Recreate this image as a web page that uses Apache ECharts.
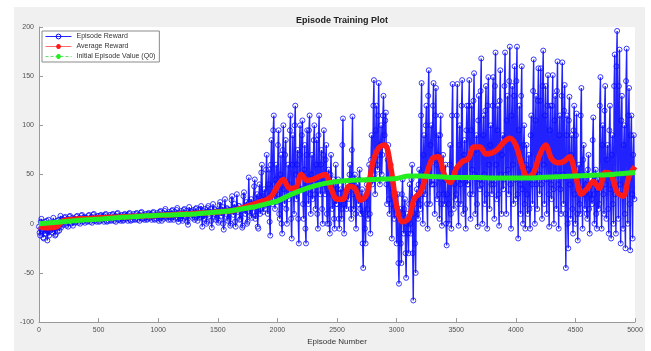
<!DOCTYPE html>
<html>
<head>
<meta charset="utf-8">
<title>Episode Training Plot</title>
<script src="https://cdn.jsdelivr.net/npm/echarts@6/dist/echarts.min.js"></script>
<style>
  html, body { margin: 0; padding: 0; background: #ffffff; }
  #chart { width: 651px; height: 351px; }
</style>
</head>
<body>
<div id="chart"></div>
<script>
// Episode reward, sampled every 5 episodes (0 ... 4995), one row per 100 episodes
const rewardStep = 5;
const episodeReward = [
  -3,-9,-12,2,5,-6,-8,-14,-15,-2,2,-10,-6,3,-17,-8,4,-12,-4,-7,
  -2,-6,-9,1,6,-3,-5,-12,-11,0,3,-8,-1,4,-7,-3,8,-4,2,5,
  4,-1,1,6,7,0,-2,3,5,-3,3,7,8,1,0,4,6,-2,2,5,
  5,1,2,7,8,3,1,5,6,0,4,8,9,2,3,6,7,1,4,6,
  5,2,3,8,9,4,2,6,7,1,5,9,10,3,3,7,6,2,5,8,
  6,2,3,8,9,4,4,7,8,2,5,9,10,3,2,6,7,3,6,9,
  6,3,4,9,10,5,3,7,8,2,6,10,11,4,4,8,7,3,5,9,
  7,3,4,9,10,5,5,8,9,3,6,10,11,4,3,7,8,4,7,10,
  7,4,5,10,11,6,4,8,9,3,7,11,12,5,5,9,8,4,6,10,
  8,4,5,10,11,6,6,9,10,4,7,11,12,5,4,8,9,5,8,11,
  9,3,5,12,13,6,3,9,11,5,8,13,15,7,6,10,10,4,7,12,
  10,4,6,13,14,7,4,10,12,6,9,14,16,5,2,9,11,5,8,13,
  10,3,5,14,15,8,7,11,13,2,-1,9,17,11,8,13,12,6,9,14,
  11,4,6,15,16,8,3,10,14,6,9,15,18,7,-3,8,13,5,10,15,
  12,0,2,16,18,10,8,12,15,3,-4,11,20,12,10,15,14,4,6,13,
  13,1,3,19,22,11,8,14,17,0,-6,12,25,14,10,16,15,3,5,14,
  14,-2,0,24,28,13,9,16,20,2,-3,14,30,16,12,18,18,4,5,15,
  15,-4,-2,28,32,14,10,18,22,0,2,20,47,22,8,16,25,6,12,20,
  18,38,45,5,8,25,30,-3,-5,28,40,10,15,52,60,20,12,28,35,15,
  25,55,70,20,10,40,55,2,-12,60,85,30,20,95,110,40,15,45,60,22,
  30,80,95,10,5,50,70,0,-10,75,100,35,20,70,85,15,0,40,60,25,
  40,95,110,5,-15,60,90,30,10,100,120,50,25,60,75,5,-20,70,100,35,
  35,90,105,20,5,55,80,-5,-20,70,95,40,20,95,110,30,10,50,70,25,
  45,85,100,30,15,60,85,10,-5,90,110,45,30,60,75,15,0,70,95,40,
  30,65,80,10,0,35,55,0,-10,50,70,30,15,35,45,5,-5,40,60,20,
  20,35,45,5,-5,25,35,15,5,80,107,20,-10,20,30,25,15,30,40,25,
  35,50,60,15,5,75,109,30,15,40,50,10,-5,30,40,30,20,45,55,15,
  10,25,35,-20,-45,10,25,-5,-20,30,40,15,5,45,60,10,-10,65,90,40,
  60,120,146,50,30,95,120,60,55,110,143,70,40,80,100,50,70,110,130,80,
  90,105,113,40,20,65,80,25,10,45,60,20,-15,35,45,15,5,25,30,10,
  -20,15,30,-40,-61,5,15,-20,-40,30,45,10,-10,15,25,-30,-55,0,10,-10,
  -30,20,40,0,-10,45,60,-30,-78,10,20,-20,-50,25,35,10,5,40,55,20,
  15,110,143,30,0,70,90,50,30,100,120,20,-5,130,156,60,20,80,100,40,
  40,120,143,40,10,110,138,60,25,70,90,30,5,90,110,20,-2,55,70,30,
  20,45,60,0,-22,30,45,20,0,60,80,10,-5,110,142,50,15,40,55,25,
  30,110,142,20,-2,80,100,40,20,120,146,45,10,70,85,15,-5,95,120,40,
  40,120,146,30,5,95,120,55,30,125,153,50,10,75,90,20,-3,105,130,45,
  35,135,168,40,0,90,110,50,20,115,140,30,-5,120,149,60,15,80,100,40,
  30,120,149,40,5,140,174,60,25,95,120,30,-2,125,156,50,10,70,90,35,
  45,140,174,50,10,105,130,55,30,145,180,40,-5,110,140,60,20,130,160,45,
  25,145,180,30,-15,95,120,40,10,130,160,35,0,80,100,20,-5,60,80,30,
  10,55,70,15,-5,90,110,40,20,135,167,50,0,105,130,40,15,125,158,50,
  30,125,158,40,5,140,176,60,20,110,140,45,10,120,151,30,-3,95,120,40,
  25,120,151,35,0,105,130,50,15,135,165,40,-5,90,110,35,10,130,164,50,
  20,115,141,10,-45,90,110,0,-25,105,129,40,5,70,90,15,-10,95,120,30,
  0,90,112,10,-17,50,60,20,10,110,138,35,-5,65,80,30,15,40,50,10,
  5,55,70,15,-10,30,40,25,20,85,108,30,0,45,55,10,-5,35,45,15,
  20,120,149,40,-5,80,100,30,10,115,140,40,5,65,80,15,-10,95,120,35,
  -15,70,90,20,0,140,172,30,-10,160,196,50,5,140,177,40,-20,105,130,30,
  -5,80,100,10,-25,145,178,40,0,110,138,20,-27,90,110,30,-15,70,90,25
];

// Average reward, every 50 episodes (0 ... 5000)
const averageStep = 50;
const averageReward = [
  -3,-4,-4,-3,3,4,4.5,5,5,5.5,
  6,6,6.5,6.5,7,7,7.5,7.5,8,8,
  8.5,9,9,9.5,10,10,10.5,11,11,11.5,
  12,12.5,13,14,16,18,20,22,24,28,
  38,45,36,36,50,44,45,48,50,36,
  25,25,38,36,24,30,62,77,80,58,
  18,2,5,26,32,50,66,68,50,42,
  56,63,66,78,78,71,72,76,83,87,
  80,60,47,52,70,80,66,62,63,68,
  50,30,36,43,36,52,50,32,28,48,
  58
];

// Initial episode value (Q0), every 100 episodes (0 ... 5000)
const q0Step = 100;
const initialValue = [
  0,1,2,3,4,4.5,5.5,6.5,7,8,
  8.5,9,9.5,10,11,12,13,15,17,20,
  23,29,34,38,41,43,44,44.5,45,45.5,
  46,48.5,48.5,48,47.5,47,47,47,46.5,46.5,
  46.5,46.5,47,47.5,48,48.5,49,49.5,50,51,
  52
];

// Axis ticks
const xTicks = { min: 0, max: 5000, interval: 500 };
const yTicks = { min: -100, max: 200, interval: 50 };

const pairs = (values, step) => values.map((v, i) => [i * step, v]);

const FONT = "'Liberation Sans', Arial, Helvetica, sans-serif";
const AXIS_GRAY = '#9a9a9a';
const LABEL_GRAY = '#505050';
const BLUE = '#0a0aff';
const RED = '#ff1a1a';
const GREEN = '#22ee22';
// stroked asterisk marker
const ASTERISK = 'path://M5,0L5,10M0,5L10,5M1.5,1.5L8.5,8.5M1.5,8.5L8.5,1.5';

const chart = echarts.init(document.getElementById('chart'), null, { renderer: 'canvas' });

chart.setOption({
  animation: false,
  backgroundColor: '#ffffff',
  textStyle: { fontFamily: FONT },
  graphic: [
    {
      type: 'rect',
      z: -10,
      silent: true,
      shape: { x: 14, y: 7, width: 631, height: 344 },
      style: { fill: '#f0f0f0' }
    }
  ],
  title: {
    text: 'Episode Training Plot',
    left: 337,
    textAlign: 'center',
    top: 11,
    textStyle: { fontSize: 9, fontWeight: 'bold', color: '#222', fontFamily: FONT }
  },
  grid: {
    left: 39, right: 16, top: 27, bottom: 27,
    show: true, backgroundColor: '#ffffff', borderWidth: 0
  },
  legend: {
    orient: 'vertical',
    left: 42, top: 31,
    itemWidth: 26, itemHeight: 6, itemGap: 3,
    padding: [2, 4, 2, 3],
    backgroundColor: '#ffffff',
    borderColor: '#8a8a8a', borderWidth: 1, borderRadius: 0,
    textStyle: { fontSize: 7, color: '#333', fontFamily: FONT },
    data: [
      { name: 'Episode Reward',
        itemStyle: { color: 'rgba(0,0,0,0)', borderColor: BLUE, borderWidth: 1 },
        lineStyle: { color: BLUE, width: 1 } },
      { name: 'Average Reward',
        itemStyle: { color: 'rgba(0,0,0,0)', borderColor: RED, borderWidth: 1.5 },
        lineStyle: { color: '#ff6a6a', width: 1 } },
      { name: 'Initial Episode Value (Q0)',
        itemStyle: { color: 'rgba(0,0,0,0)', borderColor: GREEN, borderWidth: 1.5 },
        lineStyle: { color: '#66e066', width: 1, type: [3, 2] } }
    ]
  },
  xAxis: {
    type: 'value',
    min: xTicks.min, max: xTicks.max, interval: xTicks.interval,
    name: 'Episode Number',
    nameLocation: 'middle',
    nameGap: 15,
    nameTextStyle: { fontSize: 8, color: '#333', fontFamily: FONT },
    axisLine: { show: true, onZero: false, lineStyle: { color: AXIS_GRAY, width: 1 } },
    axisTick: { show: true, inside: true, length: 4, lineStyle: { color: AXIS_GRAY } },
    axisLabel: { fontSize: 7, color: LABEL_GRAY, margin: 4, fontFamily: FONT,
                 formatter: v => String(v) },
    splitLine: { show: false }
  },
  yAxis: {
    type: 'value',
    min: yTicks.min, max: yTicks.max, interval: yTicks.interval,
    axisLine: { show: true, onZero: false, lineStyle: { color: AXIS_GRAY, width: 1 } },
    axisTick: { show: true, inside: true, length: 4, lineStyle: { color: AXIS_GRAY } },
    axisLabel: { fontSize: 7, color: LABEL_GRAY, margin: 5, fontFamily: FONT,
                 formatter: v => String(v) },
    splitLine: { show: false }
  },
  series: [
    {
      name: 'Episode Reward',
      type: 'line',
      data: pairs(episodeReward, rewardStep),
      symbol: 'circle',
      symbolSize: 5,
      showAllSymbol: true,
      itemStyle: { color: 'rgba(0,0,0,0)', borderColor: BLUE, borderWidth: 0.8 },
      lineStyle: { color: BLUE, width: 1.4, opacity: 0.9 },
      emphasis: { disabled: true },
      z: 2
    },
    {
      name: 'Average Reward',
      type: 'line',
      data: pairs(averageReward, averageStep),
      smooth: 0.35,
      showSymbol: false,
      symbol: ASTERISK,
      symbolSize: 7,
      itemStyle: { color: 'rgba(0,0,0,0)', borderColor: RED, borderWidth: 1.5 },
      lineStyle: { color: RED, width: 5.5 },
      emphasis: { disabled: true },
      z: 3
    },
    {
      name: 'Initial Episode Value (Q0)',
      type: 'line',
      data: pairs(initialValue, q0Step),
      smooth: 0.2,
      showSymbol: false,
      symbol: ASTERISK,
      symbolSize: 7,
      itemStyle: { color: 'rgba(0,0,0,0)', borderColor: GREEN, borderWidth: 1.5 },
      lineStyle: { color: GREEN, width: 5 },
      emphasis: { disabled: true },
      z: 4
    }
  ]
});
</script>
</body>
</html>
